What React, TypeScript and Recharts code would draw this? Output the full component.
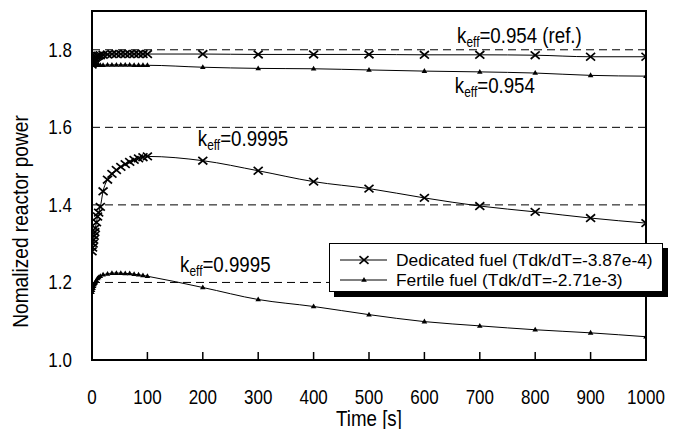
import React from "react";
import { LineChart, Line, XAxis, YAxis, CartesianGrid, ReferenceArea, ReferenceDot } from "recharts";

const FONT = "'Liberation Sans', Arial, sans-serif";
// the reference lettering is taller than it is wide
const SQUEEZE = 0.85;

// time grid [s]
const earlyTimes = [0, 1, 2, 3, 4, 5, 6, 8, 10, 12, 15, 20, 28, 36, 44, 52, 60, 68, 76, 84, 92, 100];
const lateTimes = [200, 300, 400, 500, 600, 700, 800, 900, 1000];

// dedicated fuel, keff=0.954 (ref.)
const dedRefEarly = [1.762, 1.766, 1.77, 1.773, 1.776, 1.778, 1.78, 1.782, 1.784, 1.785, 1.786, 1.787, 1.788, 1.789, 1.789, 1.789, 1.789, 1.789, 1.789, 1.789, 1.789, 1.789];
const dedRefLate = [1.789, 1.788, 1.788, 1.788, 1.787, 1.787, 1.786, 1.782, 1.782];

// fertile fuel, keff=0.954
const ferLowEarly = [1.772, 1.768, 1.765, 1.763, 1.762, 1.761, 1.761, 1.76, 1.76, 1.76, 1.76, 1.76, 1.761, 1.761, 1.761, 1.761, 1.761, 1.761, 1.76, 1.76, 1.76, 1.76];
const ferLowLate = [1.755, 1.752, 1.751, 1.748, 1.745, 1.743, 1.74, 1.734, 1.732];

// dedicated fuel, keff=0.9995
const dedHighEarly = [1.28, 1.29, 1.3, 1.31, 1.32, 1.33, 1.34, 1.355, 1.37, 1.38, 1.395, 1.435, 1.465, 1.48, 1.49, 1.498, 1.505, 1.511, 1.516, 1.52, 1.523, 1.525];
const dedHighLate = [1.514, 1.488, 1.46, 1.442, 1.418, 1.397, 1.382, 1.366, 1.353];

// fertile fuel, keff=0.9995
const ferHighEarly = [1.175, 1.18, 1.185, 1.19, 1.195, 1.198, 1.2, 1.205, 1.21, 1.213, 1.216, 1.22, 1.222, 1.224, 1.224, 1.224, 1.223, 1.223, 1.221, 1.22, 1.218, 1.216];
const ferHighLate = [1.187, 1.156, 1.138, 1.117, 1.099, 1.088, 1.078, 1.07, 1.06];

const xTicks = [0, 100, 200, 300, 400, 500, 600, 700, 800, 900, 1000];
const yTicks = [1.0, 1.2, 1.4, 1.6, 1.8];

const annotations = [
  { t: 659, v: 1.818, text: "=0.954 (ref.)" },
  { t: 655, v: 1.688, text: "=0.954" },
  { t: 191, v: 1.551, text: "=0.9995" },
  { t: 159, v: 1.226, text: "=0.9995" },
];

const toPoints = (early: number[], late: number[]) => [
  ...earlyTimes.map((t, i) => ({ t, v: early[i] })),
  ...lateTimes.map((t, i) => ({ t, v: late[i] })),
];

const dedRef = toPoints(dedRefEarly, dedRefLate);
const ferLow = toPoints(ferLowEarly, ferLowLate);
const dedHigh = toPoints(dedHighEarly, dedHighLate);
const ferHigh = toPoints(ferHighEarly, ferHighLate);

function CrossMark({ cx, cy }: { cx: number; cy: number }) {
  const sx = 4.5;
  const sy = 3.8;
  return (
    <g>
      <line x1={cx - sx} y1={cy - sy} x2={cx + sx} y2={cy + sy} stroke="#000" strokeWidth={1.7} />
      <line x1={cx - sx} y1={cy + sy} x2={cx + sx} y2={cy - sy} stroke="#000" strokeWidth={1.7} />
    </g>
  );
}

function TriMark({ cx, cy }: { cx: number; cy: number }) {
  return <path d={`M${cx - 2.8},${cy + 1.8} L${cx + 2.8},${cy + 1.8} L${cx},${cy - 3} Z`} fill="#000" />;
}

const renderCross = (p: any) => (p.cx == null ? <g key={p.key} /> : <CrossMark key={p.key} cx={p.cx} cy={p.cy} />);
const renderTri = (p: any) => (p.cx == null ? <g key={p.key} /> : <TriMark key={p.key} cx={p.cx} cy={p.cy} />);

function XTick(props: any) {
  const { x, y, payload } = props;
  return (
    <g>
      <line x1={x} y1={y} x2={x} y2={y - 8} stroke="#000" strokeWidth={1.5} />
      <text transform={`translate(${x},${y + 44}) scale(${SQUEEZE},1)`} textAnchor="middle" fontSize={20} fontFamily={FONT} fill="#000">
        {payload.value}
      </text>
    </g>
  );
}

function YTick(props: any) {
  const { x, y, payload } = props;
  return (
    <text transform={`translate(${x},${y + 7}) scale(${SQUEEZE},1)`} textAnchor="end" fontSize={20} fontFamily={FONT} fill="#000">
      {Number(payload.value).toFixed(1)}
    </text>
  );
}

const keffLabel = (text: string) => (props: any) => {
  const { viewBox } = props;
  return (
    <text transform={`translate(${viewBox.x},${viewBox.y}) scale(${SQUEEZE},1)`} fontSize={22} fontFamily={FONT} fill="#000">
      k
      <tspan dy={4} fontSize={14}>eff</tspan>
      <tspan dy={-4} fontSize={22}>{text}</tspan>
    </text>
  );
};

function LegendBox() {
  const rows = [
    { name: "Dedicated fuel (Tdk/dT=-3.87e-4)", mark: "cross" },
    { name: "Fertile fuel (Tdk/dT=-2.71e-3)", mark: "tri" },
  ];
  return (
    <div
      style={{
        position: "absolute",
        left: 329,
        top: 243,
        width: 334,
        height: 49,
        boxSizing: "border-box",
        background: "#fff",
        border: "1px solid #000",
        boxShadow: "5px 5px 0 #000",
        fontFamily: FONT,
        fontSize: 17.4,
        color: "#000",
        paddingTop: 6,
      }}
    >
      {rows.map((r) => (
        <div key={r.name} style={{ display: "flex", alignItems: "center", height: 20, lineHeight: "20px" }}>
          <svg width={66} height={20} style={{ flex: "none" }}>
            <line x1={10} y1={10} x2={57} y2={10} stroke="#000" strokeWidth={1} />
            {r.mark === "cross" ? <CrossMark cx={34} cy={10} /> : <TriMark cx={34} cy={10} />}
          </svg>
          <span style={{ whiteSpace: "nowrap" }}>{r.name}</span>
        </div>
      ))}
    </div>
  );
}

export default function App() {
  return (
    <div style={{ position: "absolute", left: 0, top: 0, width: 673, height: 429, background: "#fff" }}>
      <LineChart width={673} height={429} margin={{ top: 11, right: 27, bottom: 0, left: 0 }}>
        <CartesianGrid vertical={false} stroke="#000" strokeDasharray="8 5" strokeWidth={1} />
        <XAxis
          type="number"
          dataKey="t"
          domain={[0, 1000]}
          ticks={xTicks}
          allowDataOverflow
          height={69}
          axisLine={false}
          tickLine={false}
          tickSize={0}
          tickMargin={0}
          tick={<XTick />}
          label={{
            content: (p: any) => {
              const vb = p.viewBox;
              const cx = vb.x + vb.width / 2;
              const cy = vb.y + vb.height - 3;
              return (
                <text transform={`translate(${cx},${cy}) scale(${SQUEEZE},1)`} textAnchor="middle" fontSize={22} fontFamily={FONT} fill="#000">
                  Time [s]
                </text>
              );
            },
          }}
        />
        <YAxis
          type="number"
          dataKey="v"
          domain={[1.0, 1.9]}
          ticks={yTicks}
          allowDataOverflow
          width={92}
          axisLine={false}
          tickLine={false}
          tickSize={0}
          tickMargin={20}
          tick={<YTick />}
          label={{
            content: (p: any) => {
              const vb = p.viewBox;
              const cx = vb.x + 28;
              const cy = vb.y + vb.height / 2 + 36;
              return (
                <text transform={`translate(${cx},${cy}) rotate(-90) scale(0.87,1)`} textAnchor="middle" fontSize={22} fontFamily={FONT} fill="#000">
                  Nomalized reactor power
                </text>
              );
            },
          }}
        />
        <Line data={dedRef} dataKey="v" type="monotone" stroke="#000" strokeWidth={1} dot={renderCross} activeDot={false} isAnimationActive={false} legendType="none" />
        <Line data={ferLow} dataKey="v" type="monotone" stroke="#000" strokeWidth={1} dot={renderTri} activeDot={false} isAnimationActive={false} legendType="none" />
        <Line data={dedHigh} dataKey="v" type="monotone" stroke="#000" strokeWidth={1} dot={renderCross} activeDot={false} isAnimationActive={false} legendType="none" />
        <Line data={ferHigh} dataKey="v" type="monotone" stroke="#000" strokeWidth={1} dot={renderTri} activeDot={false} isAnimationActive={false} legendType="none" />
        <ReferenceArea x1={0} x2={1000} y1={1.0} y2={1.9} fill="none" stroke="#000" strokeWidth={2} />
        {annotations.map((a) => (
          <ReferenceDot key={a.t + "-" + a.v} x={a.t} y={a.v} r={0} fill="none" stroke="none" label={keffLabel(a.text)} />
        ))}
      </LineChart>
      <LegendBox />
    </div>
  );
}
